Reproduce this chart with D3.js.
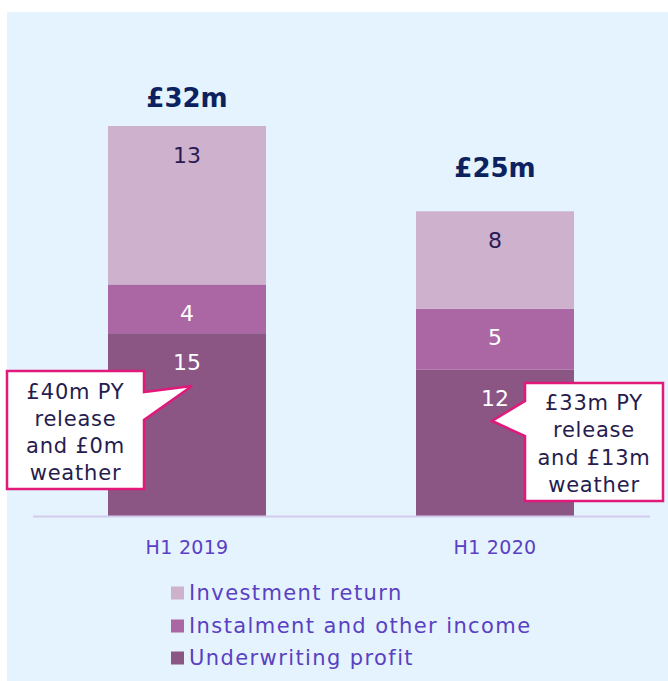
<!DOCTYPE html>
<html><head><meta charset="utf-8">
<script src="https://cdn.jsdelivr.net/npm/d3@7"></script>
<style>
html,body{margin:0;padding:0;background:#fff;}
svg{display:block;font-family:"DejaVu Sans",sans-serif;}
</style></head>
<body>
<svg id="chart" width="668" height="681"></svg>
<script>
const categories = ["H1 2019", "H1 2020"];
const seriesNames = ["Underwriting profit", "Instalment and other income", "Investment return"];
const underwriting = [15, 12];
const instalment = [4, 5];
const investment = [13, 8];
const totalLabels = ["£32m", "£25m"];
const calloutTexts = [
  ["£40m PY", "release", "and £0m", "weather"],
  ["£33m PY", "release", "and £13m", "weather"]
];
const legendOrder = ["Investment return", "Instalment and other income", "Underwriting profit"];

const colors = {
  "Investment return": "#ceb1cc",
  "Instalment and other income": "#ab67a3",
  "Underwriting profit": "#8b5584"
};
const labelColors = {
  "Investment return": "#2a1b55",
  "Instalment and other income": "#ffffff",
  "Underwriting profit": "#ffffff"
};

const svg = d3.select("#chart");
svg.append("rect").attr("x", 7).attr("y", 12).attr("width", 661).attr("height", 669).attr("fill", "#e4f3fd");

const rows = categories.map((c, i) => ({
  cat: c,
  "Underwriting profit": underwriting[i],
  "Instalment and other income": instalment[i],
  "Investment return": investment[i]
}));
const stack = d3.stack().keys(seriesNames)(rows);

const x = d3.scaleBand().domain(categories).range([31, 651]).paddingInner(0.487).paddingOuter(0.25);
const y = d3.scaleLinear().domain([0, 32]).range([516, 126]);

const g = svg.append("g");
stack.forEach(layer => {
  g.selectAll(null).data(layer).enter().append("rect")
    .attr("x", d => x(d.data.cat))
    .attr("width", x.bandwidth())
    .attr("y", d => y(d[1]))
    .attr("height", d => y(d[0]) - y(d[1]))
    .attr("fill", colors[layer.key]);
});

svg.append("line").attr("x1", 33).attr("x2", 650).attr("y1", 516.5).attr("y2", 516.5)
  .attr("stroke", "#d3cbee").attr("stroke-width", 2);

stack.forEach(layer => {
  g.selectAll(null).data(layer).enter().append("text")
    .attr("x", d => x(d.data.cat) + x.bandwidth() / 2)
    .attr("y", d => y(d[1]) + 29)
    .attr("text-anchor", "middle").attr("dominant-baseline", "central")
    .attr("font-size", 22).attr("fill", labelColors[layer.key])
    .text(d => d[1] - d[0]);
});

const totalOffsets = [28, 43];
categories.forEach((c, i) => {
  const tot = underwriting[i] + instalment[i] + investment[i];
  svg.append("text")
    .attr("x", x(c) + x.bandwidth() / 2)
    .attr("y", y(tot) - totalOffsets[i])
    .attr("text-anchor", "middle").attr("dominant-baseline", "central")
    .attr("font-size", 26).attr("font-weight", "bold").attr("fill", "#0c2260")
    .text(totalLabels[i]);
});

categories.forEach(c => {
  svg.append("text")
    .attr("x", x(c) + x.bandwidth() / 2).attr("y", 547)
    .attr("text-anchor", "middle").attr("dominant-baseline", "central")
    .attr("font-size", 19).attr("letter-spacing", 0.3).attr("fill", "#5a40c2")
    .text(c);
});

const callouts = [
  { path: "M7,371 H144 V392 L192,386 L144,420 V489 H7 Z", cx: 75.5, ys: [392, 419, 446, 473] },
  { path: "M525,383 H663 V501 H525 V436 L492,421 L525,401 Z", cx: 594, ys: [403, 430, 458, 485] }
];
callouts.forEach((co, i) => {
  svg.append("path").attr("d", co.path).attr("fill", "#ffffff")
    .attr("stroke", "#e0197b").attr("stroke-width", 2.5).attr("stroke-linejoin", "miter");
  calloutTexts[i].forEach((t, j) => {
    svg.append("text").attr("x", co.cx).attr("y", co.ys[j])
      .attr("text-anchor", "middle").attr("dominant-baseline", "central")
      .attr("font-size", 21).attr("letter-spacing", 0.8).attr("fill", "#261c4e").text(t);
  });
});

const legendYs = [593, 626, 658];
legendOrder.forEach((k, i) => {
  svg.append("rect").attr("x", 171).attr("y", legendYs[i] - 6.5).attr("width", 13).attr("height", 13)
    .attr("fill", colors[k]);
  svg.append("text").attr("x", 189).attr("y", legendYs[i])
    .attr("dominant-baseline", "central").attr("font-size", 21).attr("letter-spacing", 1.4)
    .attr("fill", "#5a40c2")
    .text(k);
});
</script>
</body></html>
